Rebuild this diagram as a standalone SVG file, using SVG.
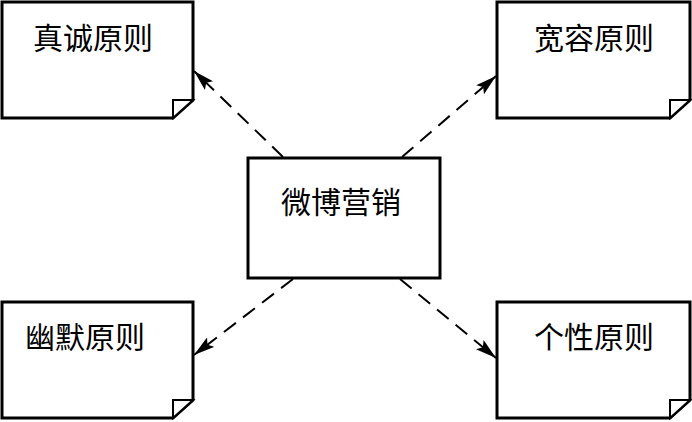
<svg xmlns="http://www.w3.org/2000/svg" width="692" height="422" viewBox="0 0 692 422">
<style>
.box{fill:#fff;stroke:#000;stroke-width:3;stroke-linejoin:miter}
.fold{fill:#fff;stroke:#000;stroke-width:2}
.lbl{font-family:"Noto Sans CJK SC","Noto Sans CJK JP",serif;font-size:30px;fill:#000;text-anchor:middle;dominant-baseline:central}
.con{stroke:#000;stroke-width:2;stroke-dasharray:15 9;fill:none}
</style>
<defs>
<marker id="ah" markerWidth="22" markerHeight="12" refX="21" refY="6" orient="auto" markerUnits="userSpaceOnUse">
<path d="M0,0 L21,6 L0,12 L4,6 Z" fill="#000"/>
</marker>
</defs>
<rect width="692" height="422" fill="#fff"/>
<g id="n1">
<path class="box" d="M2,2 H193 V100 L173,118 H2 Z"/>
<path class="fold" d="M173,118 V100 H193 Z"/>
<text class="lbl" x="93" y="36">真诚原则</text>
</g>
<g id="n2">
<path class="box" d="M497,2 H690 V100 L670,118 H497 Z"/>
<path class="fold" d="M670,118 V100 H690 Z"/>
<text class="lbl" x="594" y="36">宽容原则</text>
</g>
<g id="n3">
<path class="box" d="M2,302 H193 V400 L173,418 H2 Z"/>
<path class="fold" d="M173,418 V400 H193 Z"/>
<text class="lbl" x="85" y="335">幽默原则</text>
</g>
<g id="n4">
<path class="box" d="M497,302 H690 V400 L670,418 H497 Z"/>
<path class="fold" d="M670,418 V400 H690 Z"/>
<text class="lbl" x="594" y="335">个性原则</text>
</g>
<g id="center">
<rect class="box" x="248" y="158" width="192" height="120"/>
<text class="lbl" x="341" y="200">微博营销</text>
</g>
<g id="connectors">
<line class="con" x1="283" y1="157" x2="194" y2="71" marker-end="url(#ah)"/>
<line class="con" x1="402" y1="157" x2="496" y2="76" marker-end="url(#ah)"/>
<line class="con" x1="293" y1="279" x2="194" y2="355" marker-end="url(#ah)"/>
<line class="con" x1="400" y1="279" x2="496" y2="358" marker-end="url(#ah)"/>
</g>
</svg>
